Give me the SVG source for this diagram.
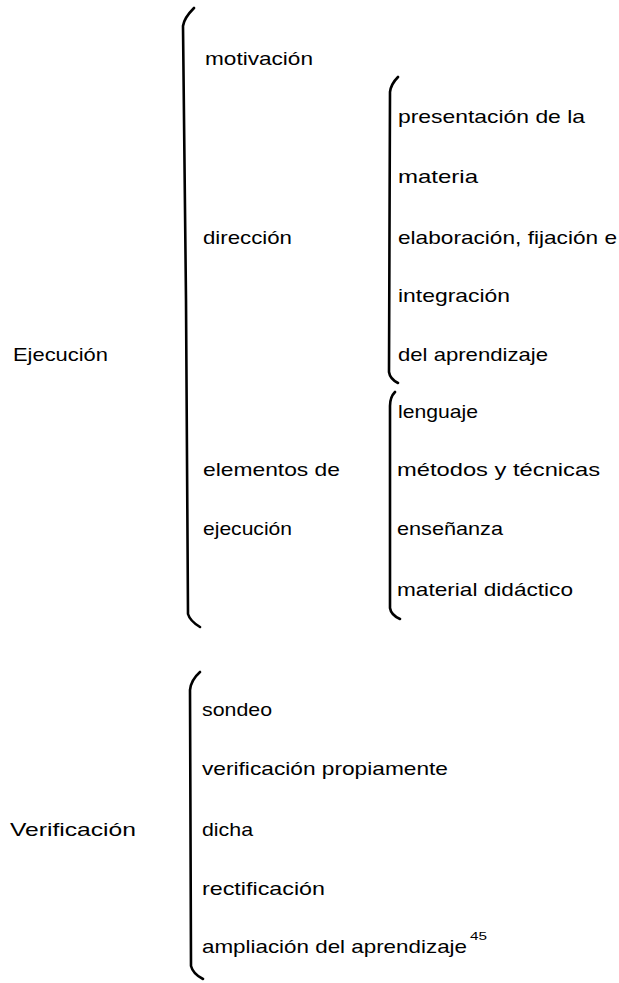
<svg xmlns="http://www.w3.org/2000/svg" width="619" height="983" viewBox="0 0 619 983">
<style>
text{font-family:"Liberation Sans","DejaVu Sans",sans-serif;font-size:19px;fill:#000;}
.sup{font-size:11px;}
.brace{fill:none;stroke:#000;stroke-width:2.6;stroke-linecap:round;stroke-linejoin:round;}
</style>
<rect width="619" height="983" fill="#fff"/>
<g id="connectors">
<path class="brace" d="M194,8 Q184,18 183,26 L186,300 L188,614 Q190,621 200,627"/>
<path class="brace" d="M398,77 Q391,84 390,92 L389,372 Q390,379 398,383"/>
<path class="brace" d="M395,392 Q390,397 390,406 L390,608 Q391,615 400,619"/>
<path class="brace" d="M200,672 Q191,680 190,690 L191,966 Q193,974 203,979"/>
</g>
<g id="ejecucion"><text x="13" y="361" textLength="95" lengthAdjust="spacingAndGlyphs">Ejecución</text></g>
<g id="motivacion"><text x="205" y="65" textLength="108" lengthAdjust="spacingAndGlyphs">motivación</text></g>
<g id="direccion"><text x="203" y="244" textLength="89" lengthAdjust="spacingAndGlyphs">dirección</text></g>
<g id="elementos">
<text x="203" y="476" textLength="137" lengthAdjust="spacingAndGlyphs">elementos de</text>
<text x="203" y="535" textLength="89" lengthAdjust="spacingAndGlyphs">ejecución</text>
</g>
<g id="direccion-items">
<text x="398" y="123" textLength="187" lengthAdjust="spacingAndGlyphs">presentación de la</text>
<text x="398" y="183" textLength="80" lengthAdjust="spacingAndGlyphs">materia</text>
<text x="398" y="244" textLength="219" lengthAdjust="spacingAndGlyphs">elaboración, fijación e</text>
<text x="398" y="302" textLength="112" lengthAdjust="spacingAndGlyphs">integración</text>
<text x="398" y="361" textLength="150" lengthAdjust="spacingAndGlyphs">del aprendizaje</text>
</g>
<g id="elementos-items">
<text x="398" y="418" textLength="80" lengthAdjust="spacingAndGlyphs">lenguaje</text>
<text x="397" y="476" textLength="203" lengthAdjust="spacingAndGlyphs">métodos y técnicas</text>
<text x="397" y="535" textLength="106" lengthAdjust="spacingAndGlyphs">enseñanza</text>
<text x="397" y="596" textLength="176" lengthAdjust="spacingAndGlyphs">material didáctico</text>
</g>
<g id="verificacion"><text x="10" y="836" textLength="126" lengthAdjust="spacingAndGlyphs">Verificación</text></g>
<g id="verificacion-items">
<text x="202" y="716" textLength="70" lengthAdjust="spacingAndGlyphs">sondeo</text>
<text x="202" y="775" textLength="246" lengthAdjust="spacingAndGlyphs">verificación propiamente</text>
<text x="202" y="836" textLength="51" lengthAdjust="spacingAndGlyphs">dicha</text>
<text x="202" y="895" textLength="123" lengthAdjust="spacingAndGlyphs">rectificación</text>
<text x="202" y="953" textLength="265" lengthAdjust="spacingAndGlyphs">ampliación del aprendizaje</text>
<text class="sup" x="470" y="940" textLength="17" lengthAdjust="spacingAndGlyphs">45</text>
</g>
</svg>
